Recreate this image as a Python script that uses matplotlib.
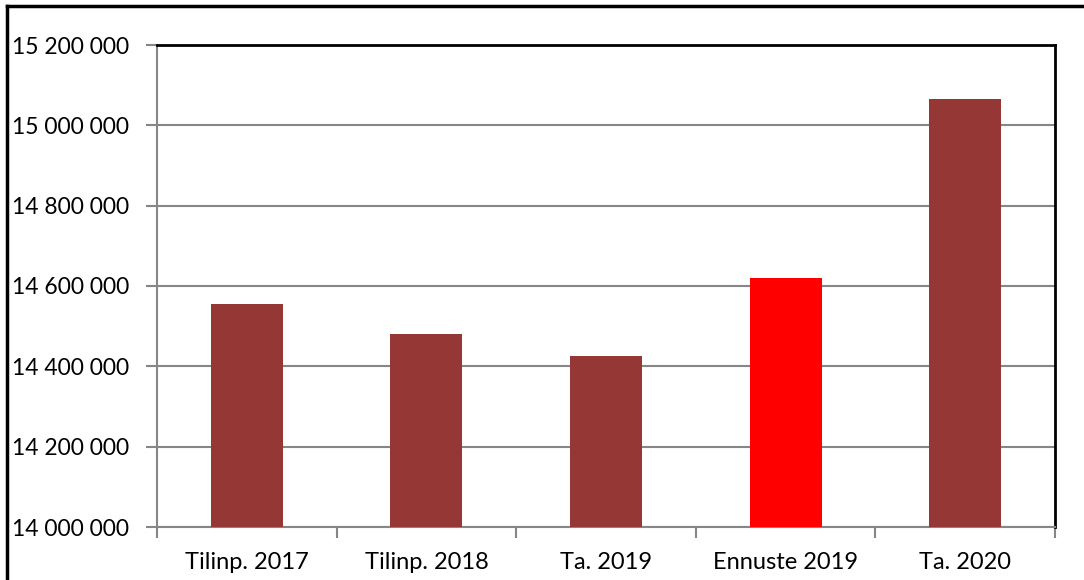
import matplotlib.pyplot as plt
from matplotlib.lines import Line2D

categories = ["Tilinp. 2017", "Tilinp. 2018", "Ta. 2019", "Ennuste 2019", "Ta. 2020"]
values = [14555000, 14480000, 14426000, 14620000, 15065000]
colors = ["#953735", "#953735", "#953735", "#FF0000", "#953735"]
yticks = [14000000, 14200000, 14400000, 14600000, 14800000, 15000000, 15200000]

plt.rcParams['font.family'] = ['Lato', 'DejaVu Sans']

fig = plt.figure(figsize=(10.84, 5.8), dpi=100)
ax = fig.add_axes([157 / 1084, 1 - 527 / 580, (1055 - 157) / 1084, (527 - 45) / 580])

x = range(len(categories))
ax.bar(x, values, width=0.4, color=colors, zorder=3)

ax.set_ylim(14000000, 15200000)
ax.set_xlim(-0.5, len(categories) - 0.5)
ax.set_yticks(yticks)
ax.set_yticklabels(["{:,}".format(v).replace(",", " ") for v in yticks], fontsize=16.5)
ax.set_xticks(x)
ax.set_xticklabels(categories, fontsize=17)
ax.tick_params(axis='x', length=0, pad=18)
ax.tick_params(axis='y', length=8, width=1.5, color="#868686", pad=12)

# category separators on the x axis
ax.set_xticks([i - 0.5 for i in range(len(categories) + 1)], minor=True)
ax.tick_params(axis='x', which='minor', length=8, width=1.5, color="#868686")

ax.grid(axis='y', color="#868686", linewidth=1.5, zorder=0)

ax.spines['left'].set_color("#868686")
ax.spines['bottom'].set_color("#868686")
ax.spines['left'].set_linewidth(1.5)
ax.spines['bottom'].set_linewidth(1.5)
ax.spines['top'].set_color("black")
ax.spines['right'].set_color("black")
ax.spines['top'].set_linewidth(2)
ax.spines['right'].set_linewidth(2)

# outer chart frame
fig.add_artist(Line2D([7 / 1084, 7 / 1084], [0, 1 - 6 / 580], color="black", linewidth=2.5))
fig.add_artist(Line2D([7 / 1084, 1], [1 - 6 / 580, 1 - 6 / 580], color="black", linewidth=2.5))

fig.savefig("out.png", dpi=100)
